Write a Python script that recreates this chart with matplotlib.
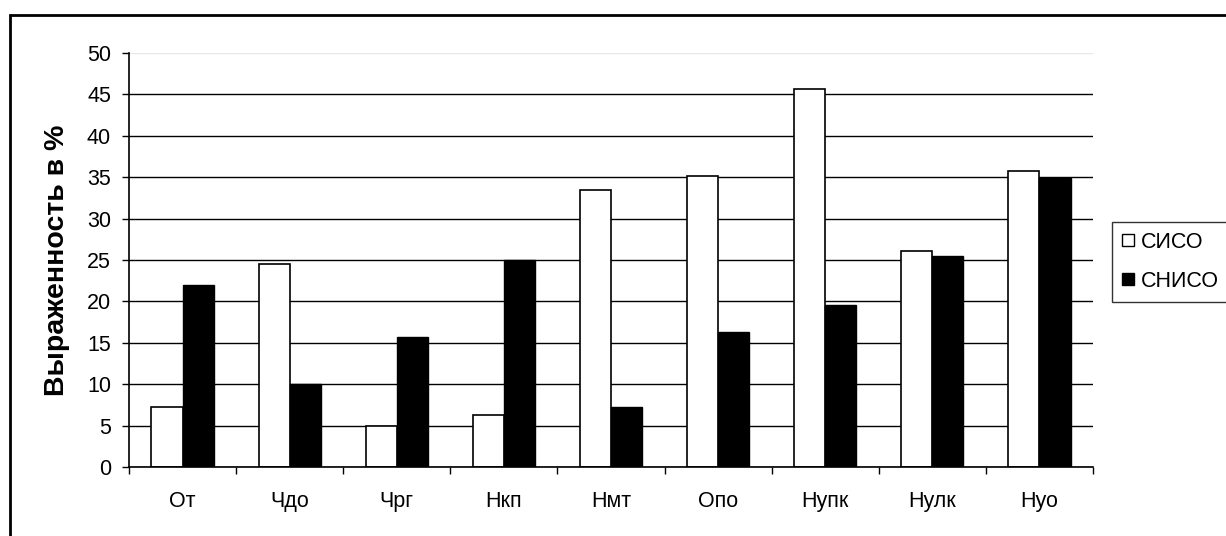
import numpy as np
import matplotlib.pyplot as plt
from matplotlib.lines import Line2D
from matplotlib.patches import Rectangle

plt.rcParams['font.family'] = ['Liberation Sans', 'DejaVu Sans']

categories = ['От', 'Чдо', 'Чрг', 'Нкп', 'Нмт', 'Опо', 'Нупк', 'Нулк', 'Нуо']
siso = [7.2, 24.5, 5.0, 6.3, 33.4, 35.2, 45.6, 26.1, 35.8]
sniso = [22.0, 10.0, 15.7, 25.0, 7.2, 16.3, 19.6, 25.5, 34.9]
series_names = ['СИСО', 'СНИСО']
y_ticks = list(range(0, 55, 5))

fig = plt.figure(figsize=(12.26, 5.36), dpi=100)
ax = fig.add_axes([129 / 1226, 1 - 467 / 536, (1093 - 129) / 1226, (467 - 53) / 536])

x = np.arange(len(categories))
w = 0.29
ax.bar(x - w / 2, siso, w, color='white', edgecolor='black', linewidth=1.2, zorder=3)
ax.bar(x + w / 2, sniso, w, color='black', edgecolor='black', linewidth=1.0, zorder=3)

ax.set_xlim(-0.5, len(categories) - 0.5)
ax.set_ylim(0, 50)
ax.set_yticks(y_ticks)
ax.set_xticks(x)
ax.set_xticklabels(categories)
ax.set_xticks(np.arange(-0.5, len(categories), 1), minor=True)

ax.tick_params(axis='x', which='major', length=0, pad=17, labelsize=15.5)
ax.tick_params(axis='x', which='minor', length=5, width=1, direction='out')
ax.tick_params(axis='y', length=5, width=1, direction='out', pad=8, labelsize=15.5)

ax.grid(axis='y', color='black', linewidth=1, zorder=0)
ax.set_axisbelow(True)
ax.get_ygridlines()[-1].set_color('#e8e8e8')
ax.yaxis.get_major_ticks()[-1].tick1line.set_color('#888888')

for side in ['top', 'right']:
    ax.spines[side].set_visible(False)
for side in ['left', 'bottom']:
    ax.spines[side].set_linewidth(1.2)
    ax.spines[side].set_zorder(4)

ax.set_ylabel('Выраженность в %', fontsize=20.5, fontweight='bold', labelpad=12)

handles = [
    Line2D([], [], linestyle='none', marker='s', markersize=9,
           markerfacecolor='white', markeredgecolor='black', markeredgewidth=1),
    Line2D([], [], linestyle='none', marker='s', markersize=9,
           markerfacecolor='black', markeredgecolor='black', markeredgewidth=1),
]
leg = fig.legend(handles, series_names, loc='upper left',
                 bbox_to_anchor=(1112 / 1226, 1 - 222 / 536),
                 frameon=True, fancybox=False, edgecolor='black',
                 fontsize=15.5, handlelength=0.6, handletextpad=0.3,
                 labelspacing=0.85, borderpad=0.45, borderaxespad=0)
leg.get_frame().set_linewidth(1)

# outer chart border, running off the right and bottom edges
fig.patches.append(Rectangle((10 / 1226, -0.1), 1.2, 1 - 15 / 536 + 0.1,
                             transform=fig.transFigure, fill=False,
                             edgecolor='black', linewidth=2))

fig.savefig('out.png', dpi=100)
